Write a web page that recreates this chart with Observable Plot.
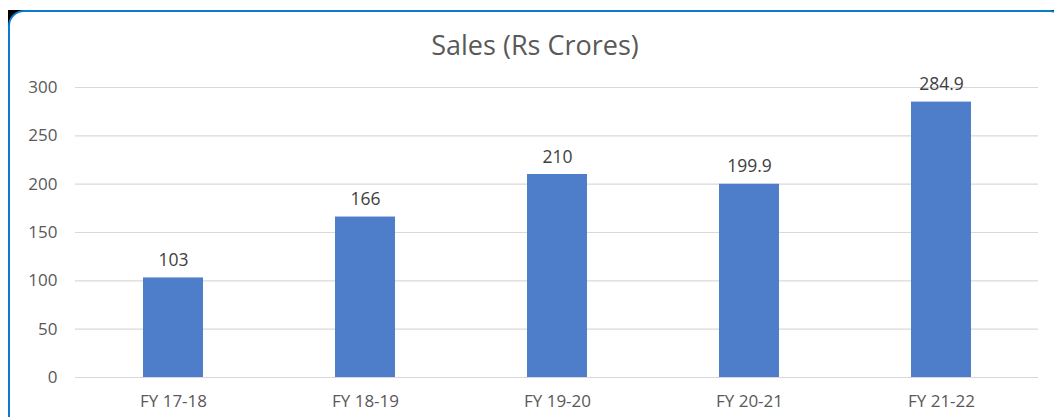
<!DOCTYPE html>
<html><head><meta charset="utf-8">
<script src="https://cdn.jsdelivr.net/npm/d3@7"></script>
<script src="https://cdn.jsdelivr.net/npm/@observablehq/plot@0.6"></script>
<style>
html,body{margin:0;padding:0;background:#fff;overflow:hidden;}
#wrap{position:relative;width:1054px;height:417px;overflow:hidden;background:#fff;}
.blk{position:absolute;background:#000;}
#frame{position:absolute;left:8px;top:10px;width:1058px;height:422px;border:2.5px solid #0a7bcf;border-radius:16px;background:#fff;box-sizing:border-box;}
#title{position:absolute;left:0;width:1070px;top:26px;text-align:center;font-family:"Open Sans",sans-serif;font-size:27px;color:#595959;}
#chart{position:absolute;left:0;top:0;}
</style></head>
<body><div id="wrap">
<div class="blk" style="left:8px;top:10px;width:16px;height:16px;"></div>
<div class="blk" style="left:1046px;top:10px;width:8px;height:6px;"></div>
<div class="blk" style="left:8px;top:406px;width:6px;height:11px;"></div>
<div id="frame"></div><div id="chart"></div><div id="title">Sales (Rs Crores)</div></div>
<script>
const categories = ["FY 17-18","FY 18-19","FY 19-20","FY 20-21","FY 21-22"];
const sales = [103,166,210,199.9,284.9];
const salesLabels = ["103","166","210","199.9","284.9"];
const yTicks = [0,50,100,150,200,250,300];
const data = categories.map((c,i)=>({cat:c,v:sales[i],lab:salesLabels[i]}));
const font = "'Open Sans', sans-serif";
const chart = Plot.plot({
  width:1054,height:417,
  marginLeft:75,marginRight:16,marginTop:87,marginBottom:40,
  style:{fontFamily:font,fontSize:"17px",color:"#595959",background:"transparent"},
  x:{domain:categories,paddingInner:0.69,paddingOuter:0.345,label:null,tickSize:0},
  y:{domain:[0,300],ticks:yTicks,label:null,tickSize:0},
  marks:[
    Plot.gridY(yTicks,{stroke:"#d9d9d9",strokeOpacity:1,strokeWidth:1.2}),
    Plot.barY(data,{x:"cat",y:"v",fill:"#4e7dc9"}),
    Plot.text(data,{x:"cat",y:"v",text:"lab",lineAnchor:"bottom",dy:-12,fill:"#404040",fontSize:17.5,fontFamily:font}),
    Plot.axisX({tickSize:0,tickPadding:17,fontSize:17,fill:"#595959"}),
    Plot.axisY(yTicks,{tickSize:0,tickPadding:18,fontSize:17,fill:"#595959"})
  ]
});
document.getElementById("chart").appendChild(chart);
</script></body></html>
